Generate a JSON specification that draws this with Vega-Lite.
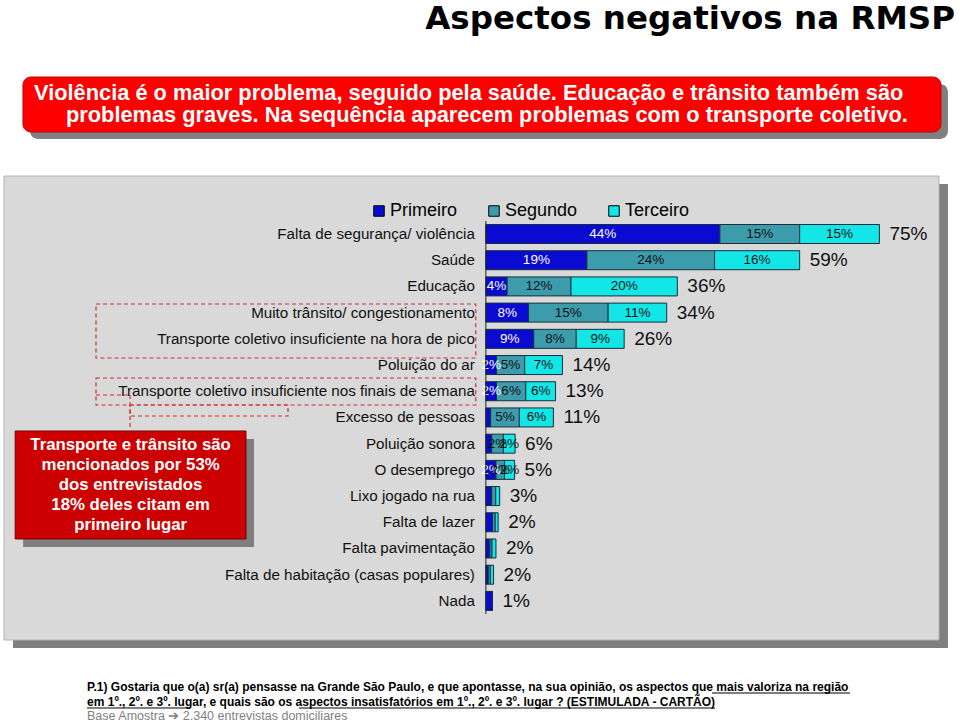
{
  "$schema": "https://vega.github.io/schema/vega-lite/v6.json",
  "background": "white",
  "padding": {"left": 3, "top": 3, "right": 0, "bottom": 0},
  "bounds": "flush",
  "spacing": 44,
  "title": {"text": "Aspectos negativos na RMSP", "anchor": "end", "frame": "group", "font": "DejaVu Sans", "fontSize": 32.5, "fontWeight": "bold", "color": "black", "dx": 16, "offset": 41},
  "config": {"view": {"stroke": null}, "font": "Liberation Sans"},
  "datasets": {
    "seg": [
      {"cat": "Falta de segurança/ violência", "rank": "Primeiro", "value": 44},
      {"cat": "Falta de segurança/ violência", "rank": "Segundo", "value": 15},
      {"cat": "Falta de segurança/ violência", "rank": "Terceiro", "value": 15},
      {"cat": "Saúde", "rank": "Primeiro", "value": 19},
      {"cat": "Saúde", "rank": "Segundo", "value": 24},
      {"cat": "Saúde", "rank": "Terceiro", "value": 16},
      {"cat": "Educação", "rank": "Primeiro", "value": 4},
      {"cat": "Educação", "rank": "Segundo", "value": 12},
      {"cat": "Educação", "rank": "Terceiro", "value": 20},
      {"cat": "Muito trânsito/ congestionamento", "rank": "Primeiro", "value": 8},
      {"cat": "Muito trânsito/ congestionamento", "rank": "Segundo", "value": 15},
      {"cat": "Muito trânsito/ congestionamento", "rank": "Terceiro", "value": 11},
      {"cat": "Transporte coletivo insuficiente na hora de pico", "rank": "Primeiro", "value": 9},
      {"cat": "Transporte coletivo insuficiente na hora de pico", "rank": "Segundo", "value": 8},
      {"cat": "Transporte coletivo insuficiente na hora de pico", "rank": "Terceiro", "value": 9},
      {"cat": "Poluição do ar", "rank": "Primeiro", "value": 2},
      {"cat": "Poluição do ar", "rank": "Segundo", "value": 5.3},
      {"cat": "Poluição do ar", "rank": "Terceiro", "value": 7.1},
      {"cat": "Transporte coletivo insuficiente nos finais de semana", "rank": "Primeiro", "value": 2},
      {"cat": "Transporte coletivo insuficiente nos finais de semana", "rank": "Segundo", "value": 5.5},
      {"cat": "Transporte coletivo insuficiente nos finais de semana", "rank": "Terceiro", "value": 5.6},
      {"cat": "Excesso de pessoas", "rank": "Primeiro", "value": 0.9},
      {"cat": "Excesso de pessoas", "rank": "Segundo", "value": 5.4},
      {"cat": "Excesso de pessoas", "rank": "Terceiro", "value": 6.4},
      {"cat": "Poluição sonora", "rank": "Primeiro", "value": 1.1},
      {"cat": "Poluição sonora", "rank": "Segundo", "value": 2.2},
      {"cat": "Poluição sonora", "rank": "Terceiro", "value": 2.2},
      {"cat": "O desemprego", "rank": "Primeiro", "value": 1.9},
      {"cat": "O desemprego", "rank": "Segundo", "value": 1.6},
      {"cat": "O desemprego", "rank": "Terceiro", "value": 1.9},
      {"cat": "Lixo jogado na rua", "rank": "Primeiro", "value": 1.1},
      {"cat": "Lixo jogado na rua", "rank": "Segundo", "value": 0.75},
      {"cat": "Lixo jogado na rua", "rank": "Terceiro", "value": 0.75},
      {"cat": "Falta de lazer", "rank": "Primeiro", "value": 1.25},
      {"cat": "Falta de lazer", "rank": "Segundo", "value": 0.5},
      {"cat": "Falta de lazer", "rank": "Terceiro", "value": 0.56},
      {"cat": "Falta pavimentação", "rank": "Primeiro", "value": 0.75},
      {"cat": "Falta pavimentação", "rank": "Segundo", "value": 0.4},
      {"cat": "Falta pavimentação", "rank": "Terceiro", "value": 0.75},
      {"cat": "Falta de habitação (casas populares)", "rank": "Primeiro", "value": 0.45},
      {"cat": "Falta de habitação (casas populares)", "rank": "Segundo", "value": 0.4},
      {"cat": "Falta de habitação (casas populares)", "rank": "Terceiro", "value": 0.6},
      {"cat": "Nada", "rank": "Primeiro", "value": 1.25},
      {"cat": "Nada", "rank": "Segundo", "value": 0},
      {"cat": "Nada", "rank": "Terceiro", "value": 0}
    ],
    "tot": [
      {"cat": "Falta de segurança/ violência", "total": 75},
      {"cat": "Saúde", "total": 59},
      {"cat": "Educação", "total": 36},
      {"cat": "Muito trânsito/ congestionamento", "total": 34},
      {"cat": "Transporte coletivo insuficiente na hora de pico", "total": 26},
      {"cat": "Poluição do ar", "total": 14},
      {"cat": "Transporte coletivo insuficiente nos finais de semana", "total": 13},
      {"cat": "Excesso de pessoas", "total": 11},
      {"cat": "Poluição sonora", "total": 6},
      {"cat": "O desemprego", "total": 5},
      {"cat": "Lixo jogado na rua", "total": 3},
      {"cat": "Falta de lazer", "total": 2},
      {"cat": "Falta pavimentação", "total": 2},
      {"cat": "Falta de habitação (casas populares)", "total": 2},
      {"cat": "Nada", "total": 1}
    ]
  },
  "vconcat": [
    {
      "width": 935, "height": 55,
      "data": {"values": [{}]},
      "layer": [
        {"mark": {"type": "rect", "fill": "#808080", "cornerRadius": 8, "xOffset": 7, "x2Offset": 7, "yOffset": 7, "y2Offset": 7},
         "encoding": {"x": {"datum": 0.0203, "type": "quantitative", "scale": {"domain": [0, 1], "nice": false, "zero": false}, "axis": null}, "x2": {"datum": 1.0021},
                      "y": {"datum": 1, "type": "quantitative", "scale": {"domain": [0, 1], "nice": false, "zero": false}, "axis": null}, "y2": {"datum": 0}}},
        {"mark": {"type": "rect", "fill": "#ff0000", "stroke": "#c80000", "strokeWidth": 1, "cornerRadius": 8},
         "encoding": {"x": {"datum": 0.0203, "type": "quantitative"}, "x2": {"datum": 1.0021},
                      "y": {"datum": 1, "type": "quantitative"}, "y2": {"datum": 0}}},
        {"mark": {"type": "text", "align": "left", "baseline": "middle", "font": "Liberation Sans", "fontWeight": "bold", "fontSize": 21.8, "color": "white"},
         "encoding": {"x": {"datum": 0.0321, "type": "quantitative"}, "y": {"datum": 0.709, "type": "quantitative"},
                      "text": {"value": "Violência é o maior problema, seguido pela saúde. Educação e trânsito também são"}}},
        {"mark": {"type": "text", "align": "left", "baseline": "middle", "font": "Liberation Sans", "fontWeight": "bold", "fontSize": 21.8, "color": "white"},
         "encoding": {"x": {"datum": 0.0663, "type": "quantitative"}, "y": {"datum": 0.309, "type": "quantitative"},
                      "text": {"value": "problemas graves. Na sequência aparecem problemas com o transporte coletivo."}}}
      ]
    },
    {
      "width": 935, "height": 464,
      "data": {"values": [{}]},
      "resolve": {"scale": {"y": "independent"}, "axis": {"y": "independent"}},
      "layer": [
        {
          "layer": [
            {"mark": {"type": "rect", "fill": "#7f7f7f", "xOffset": 9, "x2Offset": 9, "yOffset": 8, "y2Offset": 8},
             "encoding": {"x": {"datum": -90.6, "type": "quantitative", "scale": {"domain": [-90.6, 85.2], "nice": false, "zero": false}, "axis": null}, "x2": {"datum": 85.2},
                          "y": {"datum": 1, "type": "quantitative", "scale": {"domain": [0, 1], "nice": false, "zero": false}, "axis": null}, "y2": {"datum": 0}}},
            {"mark": {"type": "rect", "fill": "#d9d9d9", "stroke": "#b4b4b4", "strokeWidth": 1},
             "encoding": {"x": {"datum": -90.6, "type": "quantitative"}, "x2": {"datum": 85.2},
                          "y": {"datum": 1, "type": "quantitative"}, "y2": {"datum": 0}}},
            {"mark": {"type": "rect", "fillOpacity": 0, "stroke": "#d03030", "strokeWidth": 1.2, "strokeDash": [4, 3]},
             "encoding": {"x": {"datum": -73.3, "type": "quantitative"}, "x2": {"datum": -1.9}, "y": {"datum": 0.7241, "type": "quantitative"}, "y2": {"datum": 0.6078}}},
            {"mark": {"type": "rect", "fillOpacity": 0, "stroke": "#d03030", "strokeWidth": 1.2, "strokeDash": [4, 3]},
             "encoding": {"x": {"datum": -73.3, "type": "quantitative"}, "x2": {"datum": -1.9}, "y": {"datum": 0.5647, "type": "quantitative"}, "y2": {"datum": 0.5065}}},
            {"mark": {"type": "rect", "fillOpacity": 0, "stroke": "#d03030", "strokeWidth": 1.2, "strokeDash": [4, 3]},
             "encoding": {"x": {"datum": -66.9, "type": "quantitative"}, "x2": {"datum": -37.2}, "y": {"datum": 0.5065, "type": "quantitative"}, "y2": {"datum": 0.4828}}},
            {"mark": {"type": "rule", "stroke": "#d03030", "strokeWidth": 1.2, "strokeDash": [4, 3]},
             "encoding": {"x": {"datum": -73.3, "type": "quantitative"}, "x2": {"datum": -66.9}, "y": {"datum": 0.528, "type": "quantitative"}}},
            {"mark": {"type": "rule", "stroke": "#d03030", "strokeWidth": 1.2, "strokeDash": [4, 3]},
             "encoding": {"x": {"datum": -66.9, "type": "quantitative"}, "y": {"datum": 0.528, "type": "quantitative"}, "y2": {"datum": 0.4547}}}
          ]
        },
        {
          "layer": [
            {"data": {"name": "seg"},
             "mark": {"type": "bar", "stroke": "#15303a", "strokeWidth": 1},
             "encoding": {
               "y": {"field": "cat", "type": "nominal", "sort": null,
                     "scale": {"domain": ["Falta de segurança/ violência", "Saúde", "Educação", "Muito trânsito/ congestionamento", "Transporte coletivo insuficiente na hora de pico", "Poluição do ar", "Transporte coletivo insuficiente nos finais de semana", "Excesso de pessoas", "Poluição sonora", "O desemprego", "Lixo jogado na rua", "Falta de lazer", "Falta pavimentação", "Falta de habitação (casas populares)", "Nada"],
                               "range": [48.5, 434.4], "paddingInner": 0.275, "paddingOuter": 0},
                     "axis": {"title": null, "labels": false, "domain": false, "grid": false, "ticks": true, "tickSize": 5, "tickColor": "#222222", "offset": -482, "bandPosition": 0}},
               "x": {"field": "value", "type": "quantitative", "stack": "zero", "scale": {"domain": [-90.6, 85.2], "nice": false, "zero": false}, "axis": null},
               "color": {"field": "rank", "type": "nominal",
                         "scale": {"domain": ["Primeiro", "Segundo", "Terceiro"], "range": ["#0a0ad2", "#3d9cac", "#12e6e6"]},
                         "legend": {"orient": "none", "legendX": 366, "legendY": 125, "direction": "horizontal", "title": null, "labelFontSize": 18, "labelFont": "Liberation Sans", "labelColor": "black", "symbolType": "square", "symbolSize": 110, "symbolStrokeColor": "black", "symbolStrokeWidth": 1, "columnPadding": 27, "labelOffset": 2}}
             }},
            {"data": {"name": "seg"},
             "transform": [
               {"stack": "value", "groupby": ["cat"], "sort": [{"field": "rank", "order": "ascending"}], "as": ["s0", "s1"]},
               {"calculate": "(datum.s0 + datum.s1) / 2", "as": "mid"},
               {"calculate": "format(datum.value, '.0f') + '%'", "as": "lab"},
               {"filter": "datum.value >= 1.5"}
             ],
             "mark": {"type": "text", "align": "center", "baseline": "middle", "fontSize": 13.5, "font": "Liberation Sans"},
             "encoding": {
               "y": {"field": "cat", "type": "nominal"},
               "x": {"field": "mid", "type": "quantitative"},
               "text": {"field": "lab"},
               "color": {"condition": {"test": "datum.rank === 'Primeiro'", "value": "white"}, "value": "#111111"}
             }},
            {"data": {"name": "seg"},
             "transform": [
               {"aggregate": [{"op": "sum", "field": "value", "as": "end"}], "groupby": ["cat"]},
               {"lookup": "cat", "from": {"data": {"name": "tot"}, "key": "cat", "fields": ["total"]}},
               {"calculate": "datum.total + '%'", "as": "lab"}
             ],
             "mark": {"type": "text", "align": "left", "baseline": "middle", "dx": 10, "fontSize": 19, "font": "Liberation Sans", "color": "#111111"},
             "encoding": {
               "y": {"field": "cat", "type": "nominal"},
               "x": {"field": "end", "type": "quantitative"},
               "text": {"field": "lab"}
             }},
            {"data": {"name": "tot"},
             "mark": {"type": "text", "align": "right", "baseline": "middle", "dx": -11, "fontSize": 15.2, "font": "Liberation Sans", "color": "#111111"},
             "encoding": {
               "y": {"field": "cat", "type": "nominal"},
               "x": {"datum": 0, "type": "quantitative"},
               "text": {"field": "cat"}
             }}
          ]
        },
        {
          "layer": [
            {"mark": {"type": "rule", "stroke": "#222222", "strokeWidth": 1},
             "encoding": {"x": {"datum": 0, "type": "quantitative"}, "y": {"datum": 0.903, "type": "quantitative", "scale": {"domain": [0, 1], "nice": false, "zero": false}, "axis": null}, "y2": {"datum": 0.056}}},
            {"mark": {"type": "rect", "fill": "#7f7f7f", "xOffset": 8, "x2Offset": 8, "yOffset": 8, "y2Offset": 8},
             "encoding": {"x": {"datum": -88.5, "type": "quantitative"}, "x2": {"datum": -45.1}, "y": {"datum": 0.4504, "type": "quantitative"}, "y2": {"datum": 0.2177}}},
            {"mark": {"type": "rect", "fill": "#cc0000", "stroke": "#7a0000", "strokeWidth": 1},
             "encoding": {"x": {"datum": -88.5, "type": "quantitative"}, "x2": {"datum": -45.1}, "y": {"datum": 0.4504, "type": "quantitative"}, "y2": {"datum": 0.2177}}},
            {"mark": {"type": "text", "align": "center", "baseline": "middle", "fontSize": 16.8, "fontWeight": "bold", "font": "Liberation Sans", "color": "white", "lineHeight": 20},
             "encoding": {"x": {"datum": -66.8, "type": "quantitative"}, "y": {"datum": 0.4203, "type": "quantitative"},
                          "text": {"value": ["Transporte e trânsito são", "mencionados por 53%", "dos entrevistados", "18% deles citam em", "primeiro lugar"]}}}
          ]
        }
      ]
    },
    {
      "width": 935, "height": 33,
      "data": {"values": [{}]},
      "layer": [
        {"mark": {"type": "text", "align": "left", "baseline": "middle", "fontSize": 12, "fontWeight": "bold", "font": "Liberation Sans", "color": "black"},
         "encoding": {"x": {"datum": 0.0888, "type": "quantitative", "scale": {"domain": [0, 1], "nice": false, "zero": false}, "axis": null},
                      "y": {"datum": 0.909, "type": "quantitative", "scale": {"domain": [0, 1], "nice": false, "zero": false}, "axis": null},
                      "text": {"value": "P.1) Gostaria que o(a) sr(a) pensasse na  Grande  São Paulo, e que apontasse, na sua opinião, os aspectos que mais valoriza na região"}}},
        {"mark": {"type": "text", "align": "left", "baseline": "middle", "fontSize": 12, "fontWeight": "bold", "font": "Liberation Sans", "color": "black"},
         "encoding": {"x": {"datum": 0.0888, "type": "quantitative"}, "y": {"datum": 0.455, "type": "quantitative"},
                      "text": {"value": "em 1º., 2º. e 3º. lugar, e quais são os aspectos insatisfatórios em 1º., 2º. e 3º. lugar ? (ESTIMULADA - CARTÃO)"}}},
        {"mark": {"type": "text", "align": "left", "baseline": "middle", "fontSize": 12.5, "font": "Liberation Sans", "color": "#7f7f7f"},
         "encoding": {"x": {"datum": 0.0888, "type": "quantitative"}, "y": {"datum": 0.03, "type": "quantitative"},
                      "text": {"value": "Base Amostra ➔ 2.340 entrevistas domiciliares"}}},
        {"mark": {"type": "rule", "stroke": "black", "strokeWidth": 1},
         "encoding": {"x": {"datum": 0.7572, "type": "quantitative"}, "x2": {"datum": 0.9048}, "y": {"datum": 0.727, "type": "quantitative"}}},
        {"mark": {"type": "rule", "stroke": "black", "strokeWidth": 1},
         "encoding": {"x": {"datum": 0.0888, "type": "quantitative"}, "x2": {"datum": 0.1989}, "y": {"datum": 0.273, "type": "quantitative"}}},
        {"mark": {"type": "rule", "stroke": "black", "strokeWidth": 1},
         "encoding": {"x": {"datum": 0.3155, "type": "quantitative"}, "x2": {"datum": 0.7604}, "y": {"datum": 0.273, "type": "quantitative"}}}
      ]
    }
  ]
}
